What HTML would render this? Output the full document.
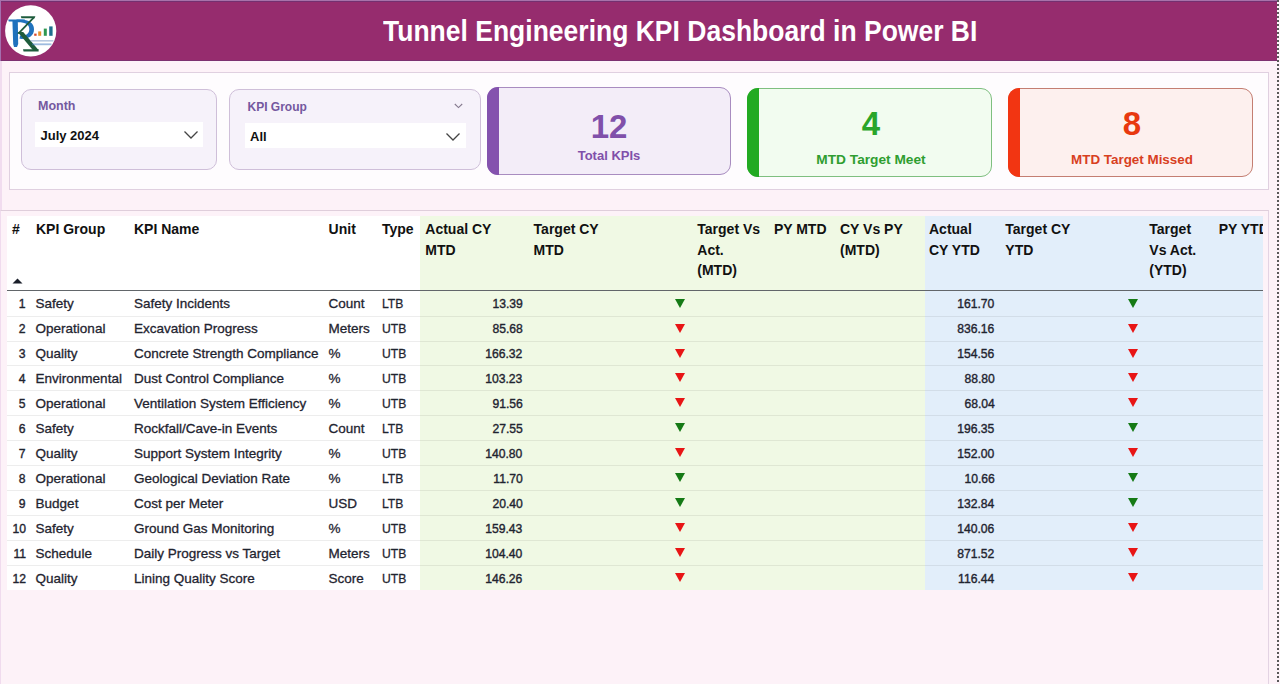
<!DOCTYPE html>
<html><head><meta charset="utf-8">
<style>
*{margin:0;padding:0;box-sizing:border-box}
html,body{width:1280px;height:684px;overflow:hidden;background:#fdf2f8;font-family:"Liberation Sans",sans-serif;position:relative}
.abs{position:absolute}
#hdr{left:0;top:1px;width:1277px;height:60px;background:#962c6e;border-top:1.5px solid #743070;border-bottom:1.5px solid #7d3070}
#hdrtop{left:0;top:0;width:1277px;height:1px;background:#a872aa}
#title{left:383px;top:14.5px;transform:scaleY(1.1);transform-origin:0 0;font-weight:bold;font-size:26.5px;color:#fff;white-space:nowrap;letter-spacing:0}

#dots{left:1277px;top:0;width:2px;opacity:0.85;height:684px;background:repeating-linear-gradient(to bottom,#3c3c3c 0 2px,transparent 2px 4px)}
#panel{left:9px;top:72px;width:1260px;height:118px;background:#fefcfe;border:1px solid #e0d0e0}
.slicer{background:#f6f2fa;border:1px solid #cfbfd9;border-radius:10px}
.slab{font-weight:bold;font-size:12.5px;color:#74589f}
.dd{background:#fff}
.ddt{font-weight:bold;font-size:13px;color:#111}
.card{border-radius:11px}
.bar{border-radius:11px 0 0 11px}
.bar{left:-1px;top:-1px;bottom:-1px;width:12px}
.num{font-weight:bold;font-size:33px;text-align:center;width:100%}
.clab{font-weight:bold;font-size:13px;text-align:center;width:100%}
#tbl{left:0;top:210px;width:1269px;height:474px;background:#fdf2f8;border-top:1px solid #dfcedb;border-left:1px solid #f0dbee;border-right:1px solid #e3d3e3}
.th{font-weight:bold;font-size:14px;color:#111;line-height:20.5px;white-space:nowrap}
.sep{left:7px;width:1255.5px;height:1px;background:rgba(0,0,0,0.07)}
.td{font-size:13.5px;color:#1f2430;white-space:nowrap;-webkit-text-stroke:0.3px #1f2430}
.num2{transform:scaleX(0.9);transform-origin:100% 50%;-webkit-text-stroke:0.4px #1f2430}
.cap{transform:scaleX(0.9);transform-origin:0 50%}
</style></head><body>
<div id="hdr" class="abs"></div>
<div id="hdrtop" class="abs"></div>
<div id="title" class="abs">Tunnel Engineering KPI Dashboard in Power BI</div>
<svg id="logo" class="abs" style="left:0;top:0" width="62" height="62" viewBox="0 0 62 62">
<circle cx="30.7" cy="30.9" r="25.6" fill="#fff"/>
<path d="M8.2,19.4 L25,19.4 L24,21.6 L8.8,21.6 Z" fill="#1f72bd"/>
<path d="M12.4,20.5 L17.8,20.5 L18.2,44 L17,47 L14,47 L13.2,44 Z" fill="#1f72bd"/>
<path d="M16.5,19.6 C28,18.6 34,22.5 34,29.2 C34,36.2 28,39.6 19.5,38.8 L20,35.6 C25.8,36.2 29.3,33.6 29.3,29.2 C29.3,24.6 25.5,22 16.5,22.3 Z" fill="#1f72bd"/>
<path d="M20.8,16.2 L35.4,16.2 L34.6,18.2 L21.4,18.2 Z" fill="#1e5c3c"/>
<path d="M32.6,17.5 L34.8,17.8 L19.2,34 L17.2,33.4 Z" fill="#1e5c3c"/>
<path d="M17.6,32 L23.2,32 L38.5,50 L32.8,50 Z" fill="#1e5c3c"/>
<path d="M23,49.2 L38.6,49.2 L38.6,51.4 L23.6,51.4 Z" fill="#1e5c3c"/>
<rect x="34.2" y="33.6" width="2.4" height="2.2" fill="#d84a2c"/>
<rect x="38.2" y="31.4" width="3" height="4.4" fill="#e8902c"/>
<rect x="43.8" y="28.6" width="3" height="7.2" fill="#2f9850"/>
<rect x="49.2" y="26.4" width="3.4" height="9.4" fill="#1e6f8e"/>
<rect x="30.5" y="40" width="23" height="1.6" fill="#7d9cc8" opacity="0.55"/>
<rect x="32" y="43.4" width="19.5" height="1.8" fill="#3d78c0" opacity="0.5"/>
</svg>
<div id="dots" class="abs"></div>
<div class="abs" style="left:0;top:61px;width:1.5px;height:623px;background:#f1dcef"></div>
<div class="abs" style="left:0;top:1px;width:1.2px;height:60px;background:#a46fae"></div>

<div id="panel" class="abs"></div>
<!-- Month slicer -->
<div class="abs slicer" style="left:21px;top:89px;width:196px;height:81px"></div>
<div class="abs slab" style="left:38px;top:98.5px">Month</div>
<div class="abs dd" style="left:35px;top:122px;width:168px;height:25px"></div>
<div class="abs ddt" style="left:40.5px;top:127.5px">July 2024</div>
<svg class="abs" style="left:183px;top:130px" width="16" height="10"><polyline points="1.5,1.5 8,8 14.5,1.5" fill="none" stroke="#444" stroke-width="1.3"/></svg>
<!-- KPI group slicer -->
<div class="abs slicer" style="left:229px;top:89px;width:252px;height:81px"></div>
<div class="abs slab" style="left:247.5px;top:100px;font-size:12px">KPI Group</div>
<svg class="abs" style="left:453px;top:102px" width="11" height="7"><polyline points="1.8,2 5.5,5.6 9.2,2" fill="none" stroke="#857a8e" stroke-width="1.1"/></svg>
<div class="abs dd" style="left:245px;top:123px;width:221px;height:25px"></div>
<div class="abs ddt" style="left:250px;top:129px">All</div>
<svg class="abs" style="left:445px;top:132px" width="16" height="10"><polyline points="1.5,1.5 8,8 14.5,1.5" fill="none" stroke="#444" stroke-width="1.3"/></svg>

<!-- cards -->
<div class="abs card" style="left:487px;top:87px;width:244px;height:88px;background:#f3edf8;border:1px solid #a88cc0">
  <div class="abs bar" style="background:#8452ae"></div>
  <div class="abs num" style="top:20px;color:#8050aa">12</div>
  <div class="abs clab" style="top:60px;color:#8050aa">Total KPIs</div>
</div>
<div class="abs card" style="left:747px;top:88px;width:245px;height:89px;background:#f2fcf0;border:1px solid #7fbf80">
  <div class="abs bar" style="background:#22aa22"></div>
  <div class="abs num" style="top:15.5px;left:1.5px;color:#2aa52a">4</div>
  <div class="abs clab" style="top:63px;left:1.5px;font-size:13.7px;color:#2f9e30">MTD Target Meet</div>
</div>
<div class="abs card" style="left:1008px;top:88px;width:245px;height:89px;background:#fdf0ee;border:1px solid #c47e72">
  <div class="abs bar" style="background:#f23512"></div>
  <div class="abs num" style="top:15.5px;left:1.5px;color:#e8380f">8</div>
  <div class="abs clab" style="top:63px;left:1.5px;font-size:13.4px;color:#d8401f">MTD Target Missed</div>
</div>

<!-- table -->
<div id="tbl" class="abs"></div>
<div id="tblwrap">
<div class="abs" style="left:7px;top:215.5px;width:412.5px;height:374.6px;background:#fff"></div>
<div class="abs" style="left:419.5px;top:215.5px;width:505px;height:374.6px;background:#f0f9e4"></div>
<div class="abs" style="left:924.5px;top:215.5px;width:338px;height:374.6px;background:#e2eefa"></div>
<div class="abs" style="left:7px;top:290px;width:1255.5px;height:1.3px;background:#62666a"></div>
<div class="abs sep" style="top:315.6px"></div>
<div class="abs sep" style="top:340.5px"></div>
<div class="abs sep" style="top:365.4px"></div>
<div class="abs sep" style="top:390.3px"></div>
<div class="abs sep" style="top:415.2px"></div>
<div class="abs sep" style="top:440.1px"></div>
<div class="abs sep" style="top:465.0px"></div>
<div class="abs sep" style="top:489.9px"></div>
<div class="abs sep" style="top:514.8px"></div>
<div class="abs sep" style="top:539.7px"></div>
<div class="abs sep" style="top:564.6px"></div>
<div class="abs th" style="left:12.0px;top:219px">#</div>
<div class="abs th" style="left:36.0px;top:219px">KPI Group</div>
<div class="abs th" style="left:134.0px;top:219px">KPI Name</div>
<div class="abs th" style="left:328.6px;top:219px">Unit</div>
<div class="abs th" style="left:381.9px;top:219px">Type</div>
<div class="abs th" style="left:425.3px;top:219px">Actual CY<br>MTD</div>
<div class="abs th" style="left:533.6px;top:219px">Target CY<br>MTD</div>
<div class="abs th" style="left:697.3px;top:219px">Target Vs<br>Act.<br>(MTD)</div>
<div class="abs th" style="left:773.9px;top:219px">PY MTD</div>
<div class="abs th" style="left:840.0px;top:219px">CY Vs PY<br>(MTD)</div>
<div class="abs th" style="left:929.0px;top:219px">Actual<br>CY YTD</div>
<div class="abs th" style="left:1005.3px;top:219px">Target CY<br>YTD</div>
<div class="abs th" style="left:1149.3px;top:219px">Target<br>Vs Act.<br>(YTD)</div>
<div class="abs" style="left:1210px;top:219px;width:52.5px;overflow:hidden"><div class="th" style="padding-left:8.7px">PY YTD</div></div>
<svg class="abs" style="left:12px;top:278px" width="11" height="6"><polygon points="0.5,5.5 5.5,0.5 10.5,5.5" fill="#1a1f2a"/></svg>
<div class="abs td num2" style="right:1254.2px;top:296.3px">1</div>
<div class="abs td" style="left:35.6px;top:296.3px">Safety</div>
<div class="abs td" style="left:134px;top:296.3px">Safety Incidents</div>
<div class="abs td" style="left:328.6px;top:296.3px">Count</div>
<div class="abs td cap" style="left:381.9px;top:296.3px">LTB</div>
<div class="abs td num2" style="right:757.3px;top:296.3px">13.39</div>
<div class="abs td num2" style="right:285.3px;top:296.3px">161.70</div>
<svg class="abs" style="left:675.25px;top:298.7px" width="10" height="9"><polygon points="0,0 10,0 5,9" fill="#157a15"/></svg>
<svg class="abs" style="left:1127.50px;top:298.7px" width="10" height="9"><polygon points="0,0 10,0 5,9" fill="#157a15"/></svg>
<div class="abs td num2" style="right:1254.2px;top:321.3px">2</div>
<div class="abs td" style="left:35.6px;top:321.3px">Operational</div>
<div class="abs td" style="left:134px;top:321.3px">Excavation Progress</div>
<div class="abs td" style="left:328.6px;top:321.3px">Meters</div>
<div class="abs td cap" style="left:381.9px;top:321.3px">UTB</div>
<div class="abs td num2" style="right:757.3px;top:321.3px">85.68</div>
<div class="abs td num2" style="right:285.3px;top:321.3px">836.16</div>
<svg class="abs" style="left:675.25px;top:323.6px" width="10" height="9"><polygon points="0,0 10,0 5,9" fill="#e81515"/></svg>
<svg class="abs" style="left:1127.50px;top:323.6px" width="10" height="9"><polygon points="0,0 10,0 5,9" fill="#e81515"/></svg>
<div class="abs td num2" style="right:1254.2px;top:346.2px">3</div>
<div class="abs td" style="left:35.6px;top:346.2px">Quality</div>
<div class="abs td" style="left:134px;top:346.2px">Concrete Strength Compliance</div>
<div class="abs td" style="left:328.6px;top:346.2px">%</div>
<div class="abs td cap" style="left:381.9px;top:346.2px">UTB</div>
<div class="abs td num2" style="right:757.3px;top:346.2px">166.32</div>
<div class="abs td num2" style="right:285.3px;top:346.2px">154.56</div>
<svg class="abs" style="left:675.25px;top:348.5px" width="10" height="9"><polygon points="0,0 10,0 5,9" fill="#e81515"/></svg>
<svg class="abs" style="left:1127.50px;top:348.5px" width="10" height="9"><polygon points="0,0 10,0 5,9" fill="#e81515"/></svg>
<div class="abs td num2" style="right:1254.2px;top:371.2px">4</div>
<div class="abs td" style="left:35.6px;top:371.2px">Environmental</div>
<div class="abs td" style="left:134px;top:371.2px">Dust Control Compliance</div>
<div class="abs td" style="left:328.6px;top:371.2px">%</div>
<div class="abs td cap" style="left:381.9px;top:371.2px">UTB</div>
<div class="abs td num2" style="right:757.3px;top:371.2px">103.23</div>
<div class="abs td num2" style="right:285.3px;top:371.2px">88.80</div>
<svg class="abs" style="left:675.25px;top:373.4px" width="10" height="9"><polygon points="0,0 10,0 5,9" fill="#e81515"/></svg>
<svg class="abs" style="left:1127.50px;top:373.4px" width="10" height="9"><polygon points="0,0 10,0 5,9" fill="#e81515"/></svg>
<div class="abs td num2" style="right:1254.2px;top:396.2px">5</div>
<div class="abs td" style="left:35.6px;top:396.2px">Operational</div>
<div class="abs td" style="left:134px;top:396.2px">Ventilation System Efficiency</div>
<div class="abs td" style="left:328.6px;top:396.2px">%</div>
<div class="abs td cap" style="left:381.9px;top:396.2px">UTB</div>
<div class="abs td num2" style="right:757.3px;top:396.2px">91.56</div>
<div class="abs td num2" style="right:285.3px;top:396.2px">68.04</div>
<svg class="abs" style="left:675.25px;top:398.3px" width="10" height="9"><polygon points="0,0 10,0 5,9" fill="#e81515"/></svg>
<svg class="abs" style="left:1127.50px;top:398.3px" width="10" height="9"><polygon points="0,0 10,0 5,9" fill="#e81515"/></svg>
<div class="abs td num2" style="right:1254.2px;top:421.1px">6</div>
<div class="abs td" style="left:35.6px;top:421.1px">Safety</div>
<div class="abs td" style="left:134px;top:421.1px">Rockfall/Cave-in Events</div>
<div class="abs td" style="left:328.6px;top:421.1px">Count</div>
<div class="abs td cap" style="left:381.9px;top:421.1px">LTB</div>
<div class="abs td num2" style="right:757.3px;top:421.1px">27.55</div>
<div class="abs td num2" style="right:285.3px;top:421.1px">196.35</div>
<svg class="abs" style="left:675.25px;top:423.2px" width="10" height="9"><polygon points="0,0 10,0 5,9" fill="#157a15"/></svg>
<svg class="abs" style="left:1127.50px;top:423.2px" width="10" height="9"><polygon points="0,0 10,0 5,9" fill="#157a15"/></svg>
<div class="abs td num2" style="right:1254.2px;top:446.1px">7</div>
<div class="abs td" style="left:35.6px;top:446.1px">Quality</div>
<div class="abs td" style="left:134px;top:446.1px">Support System Integrity</div>
<div class="abs td" style="left:328.6px;top:446.1px">%</div>
<div class="abs td cap" style="left:381.9px;top:446.1px">UTB</div>
<div class="abs td num2" style="right:757.3px;top:446.1px">140.80</div>
<div class="abs td num2" style="right:285.3px;top:446.1px">152.00</div>
<svg class="abs" style="left:675.25px;top:448.1px" width="10" height="9"><polygon points="0,0 10,0 5,9" fill="#e81515"/></svg>
<svg class="abs" style="left:1127.50px;top:448.1px" width="10" height="9"><polygon points="0,0 10,0 5,9" fill="#e81515"/></svg>
<div class="abs td num2" style="right:1254.2px;top:471.1px">8</div>
<div class="abs td" style="left:35.6px;top:471.1px">Operational</div>
<div class="abs td" style="left:134px;top:471.1px">Geological Deviation Rate</div>
<div class="abs td" style="left:328.6px;top:471.1px">%</div>
<div class="abs td cap" style="left:381.9px;top:471.1px">LTB</div>
<div class="abs td num2" style="right:757.3px;top:471.1px">11.70</div>
<div class="abs td num2" style="right:285.3px;top:471.1px">10.66</div>
<svg class="abs" style="left:675.25px;top:473.0px" width="10" height="9"><polygon points="0,0 10,0 5,9" fill="#157a15"/></svg>
<svg class="abs" style="left:1127.50px;top:473.0px" width="10" height="9"><polygon points="0,0 10,0 5,9" fill="#157a15"/></svg>
<div class="abs td num2" style="right:1254.2px;top:496.1px">9</div>
<div class="abs td" style="left:35.6px;top:496.1px">Budget</div>
<div class="abs td" style="left:134px;top:496.1px">Cost per Meter</div>
<div class="abs td" style="left:328.6px;top:496.1px">USD</div>
<div class="abs td cap" style="left:381.9px;top:496.1px">LTB</div>
<div class="abs td num2" style="right:757.3px;top:496.1px">20.40</div>
<div class="abs td num2" style="right:285.3px;top:496.1px">132.84</div>
<svg class="abs" style="left:675.25px;top:497.9px" width="10" height="9"><polygon points="0,0 10,0 5,9" fill="#157a15"/></svg>
<svg class="abs" style="left:1127.50px;top:497.9px" width="10" height="9"><polygon points="0,0 10,0 5,9" fill="#157a15"/></svg>
<div class="abs td num2" style="right:1254.2px;top:521.0px">10</div>
<div class="abs td" style="left:35.6px;top:521.0px">Safety</div>
<div class="abs td" style="left:134px;top:521.0px">Ground Gas Monitoring</div>
<div class="abs td" style="left:328.6px;top:521.0px">%</div>
<div class="abs td cap" style="left:381.9px;top:521.0px">UTB</div>
<div class="abs td num2" style="right:757.3px;top:521.0px">159.43</div>
<div class="abs td num2" style="right:285.3px;top:521.0px">140.06</div>
<svg class="abs" style="left:675.25px;top:522.8px" width="10" height="9"><polygon points="0,0 10,0 5,9" fill="#e81515"/></svg>
<svg class="abs" style="left:1127.50px;top:522.8px" width="10" height="9"><polygon points="0,0 10,0 5,9" fill="#e81515"/></svg>
<div class="abs td num2" style="right:1254.2px;top:546.0px">11</div>
<div class="abs td" style="left:35.6px;top:546.0px">Schedule</div>
<div class="abs td" style="left:134px;top:546.0px">Daily Progress vs Target</div>
<div class="abs td" style="left:328.6px;top:546.0px">Meters</div>
<div class="abs td cap" style="left:381.9px;top:546.0px">UTB</div>
<div class="abs td num2" style="right:757.3px;top:546.0px">104.40</div>
<div class="abs td num2" style="right:285.3px;top:546.0px">871.52</div>
<svg class="abs" style="left:675.25px;top:547.7px" width="10" height="9"><polygon points="0,0 10,0 5,9" fill="#e81515"/></svg>
<svg class="abs" style="left:1127.50px;top:547.7px" width="10" height="9"><polygon points="0,0 10,0 5,9" fill="#e81515"/></svg>
<div class="abs td num2" style="right:1254.2px;top:571.0px">12</div>
<div class="abs td" style="left:35.6px;top:571.0px">Quality</div>
<div class="abs td" style="left:134px;top:571.0px">Lining Quality Score</div>
<div class="abs td" style="left:328.6px;top:571.0px">Score</div>
<div class="abs td cap" style="left:381.9px;top:571.0px">UTB</div>
<div class="abs td num2" style="right:757.3px;top:571.0px">146.26</div>
<div class="abs td num2" style="right:285.3px;top:571.0px">116.44</div>
<svg class="abs" style="left:675.25px;top:572.6px" width="10" height="9"><polygon points="0,0 10,0 5,9" fill="#e81515"/></svg>
<svg class="abs" style="left:1127.50px;top:572.6px" width="10" height="9"><polygon points="0,0 10,0 5,9" fill="#e81515"/></svg>
</div><!--endtbl-->
</body></html>
